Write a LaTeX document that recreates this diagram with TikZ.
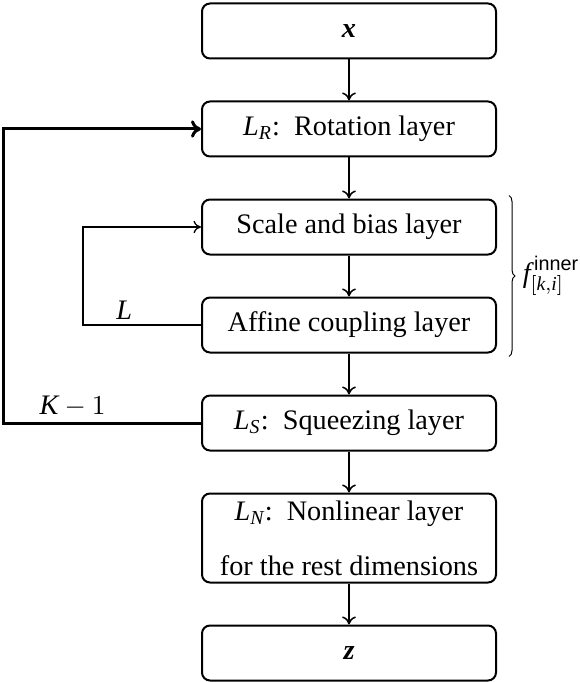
\documentclass[tikz,border=0pt]{standalone}
\usepackage{amsmath,amsfonts,amssymb}
\usepackage{fontspec}
\setmainfont{Liberation Serif}
\setsansfont{Liberation Sans}
\usepackage{tikz}
\usetikzlibrary{arrows.meta,positioning,decorations.pathreplacing}

\begin{document}
\begin{tikzpicture}[node distance=16.4pt, auto, font=\fontsize{11.3}{13.5}\selectfont]
        % Define styles
        \tikzset{
            layer/.style={rectangle, rounded corners=3.2pt, draw, line width=0.8pt, minimum width=117.6pt, minimum height=22pt, inner ysep=2pt, align=center},
            arrow/.style={line width=0.6pt,-{To[length=3.2pt,width=5.5pt]}},
            bigloop/.style={line width=1.2pt,-{To[length=4pt,width=7pt]}},
            smallloop/.style={line width=0.5pt,-{To[length=3pt,width=5pt]}},
            brace/.style={decorate, decoration={brace, amplitude=2.4pt}, line width=0.4pt}
        }
        \useasboundingbox (0,0) rectangle (232pt,-272.8pt);

        % Create nodes
        \node [layer] (input) at (139.6pt,-12.4pt) {\textbf{\textit{x}}};
        \node [layer, below=of input] (rotation) {$\textit{L}_{\textit{R}}$:\enspace Rotation layer};
        \node [layer, below=of rotation] (scale) {Scale and bias layer};
        \node [layer, below=of scale] (affine) {Affine coupling layer};
        \node [layer, below=of affine] (squeeze) {$\textit{L}_{\textit{S}}$:\enspace Squeezing layer};
        \node [layer, below=of squeeze, minimum height=35.6pt] (nonlinear) {$\textit{L}_{\textit{N}}$:\enspace Nonlinear layer\\[8.5pt]for the rest dimensions};
        \node [layer, below=of nonlinear] (output) {\textbf{\textit{z}}};
        \coordinate (outerx) at (1.4pt,0);
        \coordinate (innerx) at (33.2pt,0);

        % Create arrows
        \draw [arrow] (input) -- (rotation);
        \draw [arrow] (rotation) -- (scale);
        \draw [arrow] (scale) -- (affine);
        \draw [arrow] (affine) -- (squeeze);
        \draw [arrow] (squeeze) -- (nonlinear);
        \draw [arrow] (nonlinear) -- (output);

        % Loops
        \draw [smallloop] (affine.west) -- node[pos=0.65, above, inner sep=2pt] {$\textit{L}$} (affine.west -| innerx) |- (scale.west);
        \draw [bigloop] (squeeze.west) -- node[pos=0.65, above, inner sep=2pt] {$\textit{K}-1$} (squeeze.west -| outerx) |- (rotation.west);

        % Add side label
        \draw [brace] ([xshift=4.8pt,yshift=1.2pt]scale.north east) -- ([xshift=4.8pt,yshift=-1.2pt]affine.south east)
            node [midway, right=2pt] {$\textit{f}^{\,\textsf{inner}}_{[\textit{k},\textit{i}]}$};
\end{tikzpicture}
\end{document}
